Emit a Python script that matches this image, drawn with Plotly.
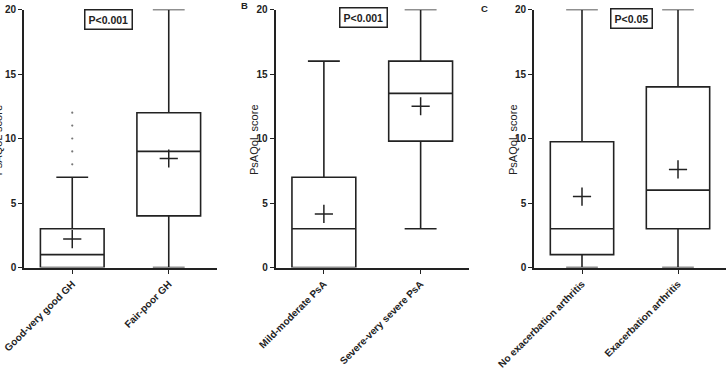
import plotly.graph_objects as go

# ---------------- data ----------------
cats_a = ["Good-very good GH", "Fair-poor GH"]
low_a = [0, 0]
q1_a = [0, 4]
med_a = [1, 9]
q3_a = [3, 12]
up_a = [7, 20]
mean_a = [2.2, 8.45]
out_a_cat = ["Good-very good GH"] * 5
out_a_val = [8, 9, 10, 11, 12]

cats_b = ["Mild-moderate PsA", "Severe-very severe PsA"]
low_b = [0, 3]
q1_b = [0, 9.8]
med_b = [3, 13.5]
q3_b = [7, 16]
up_b = [16, 20]
mean_b = [4.15, 12.5]

cats_c = ["No exacerbation arthritis", "Exacerbation arthritis"]
low_c = [0, 0]
q1_c = [1, 3]
med_c = [3, 6]
q3_c = [9.75, 14]
up_c = [20, 20]
mean_c = [5.5, 7.6]

pvals = ["P<0.001", "P<0.001", "P<0.05"]
panel_labels = ["", "B", "C"]
ytitle = "PsAQoL score"
yticks = [0, 5, 10, 15, 20]

# ---------------- layout geometry ----------------
W, H = 726, 369
def px(x):
    return x / W
def py(y):
    return 1 - y / H

y_dom = [py(267.5), py(9.5)]
x_doms = [[px(24), px(217)], [px(275.5), px(469)], [px(534), 1.0]]

fig = go.Figure()

panels = [
    (cats_a, low_a, q1_a, med_a, q3_a, up_a, mean_a),
    (cats_b, low_b, q1_b, med_b, q3_b, up_b, mean_b),
    (cats_c, low_c, q1_c, med_c, q3_c, up_c, mean_c),
]

font_fam = "Liberation Sans, Arial, sans-serif"
ink = "#222222"

for i, (cats, lo, q1, md, q3, up, mn) in enumerate(panels):
    xa = "x" if i == 0 else f"x{i+1}"
    ya = "y" if i == 0 else f"y{i+1}"
    fig.add_trace(go.Box(
        x=cats, q1=q1, median=md, q3=q3, lowerfence=lo, upperfence=up,
        boxpoints=False, width=0.66, whiskerwidth=0.5,
        fillcolor="rgba(0,0,0,0)", line=dict(color=ink, width=1.6),
        xaxis=xa, yaxis=ya, showlegend=False, hoverinfo="skip",
    ))
    fig.add_trace(go.Scatter(
        x=cats, y=mn, mode="markers",
        marker=dict(symbol="cross-thin", size=13, line=dict(color=ink, width=1.5)),
        xaxis=xa, yaxis=ya, showlegend=False, hoverinfo="skip",
    ))
    if i == 0:
        fig.add_trace(go.Scatter(
            x=out_a_cat, y=out_a_val, mode="markers",
            marker=dict(symbol="circle", size=2.2, color="#777777"),
            xaxis=xa, yaxis=ya, showlegend=False, hoverinfo="skip",
        ))

    axis_common = dict(showline=True, linecolor=ink, linewidth=1.6,
                       ticks="outside", tickcolor=ink, tickwidth=1.4,
                       showgrid=False, zeroline=False, automargin=False)
    fig.layout[("xaxis" if i == 0 else f"xaxis{i+1}")] = dict(
        domain=x_doms[i], anchor=ya, type="category",
        categoryorder="array", categoryarray=cats,
        range=[-0.5, 1.5], ticklen=5, tickangle=-45,
        tickfont=dict(family=font_fam, size=10, color=ink, weight="bold"),
        **axis_common)
    fig.layout[("yaxis" if i == 0 else f"yaxis{i+1}")] = dict(
        domain=y_dom, anchor=xa, range=[0, 20], tickvals=yticks,
        ticklen=4, tickfont=dict(family=font_fam, size=10, color=ink, weight="bold"),
        **axis_common)

# y titles
ytitle_x = [-2.5, 254, 513]
for xx in ytitle_x:
    fig.add_annotation(x=px(xx), y=py(140), xref="paper", yref="paper",
                       text=ytitle, textangle=-90, showarrow=False,
                       xanchor="center", yanchor="middle",
                       font=dict(family=font_fam, size=11, color=ink))

# p-value boxes
p_pos = [(108, 20), (363, 17.5), (631, 19)]
for (xx, yy), t in zip(p_pos, pvals):
    fig.add_annotation(x=px(xx), y=py(yy), xref="paper", yref="paper",
                       text=f"<b>{t}</b>", showarrow=False,
                       xanchor="center", yanchor="middle",
                       bordercolor=ink, borderwidth=1.5, borderpad=3,
                       bgcolor="white",
                       font=dict(family=font_fam, size=10.5, color=ink))

# panel labels
lab_pos = [(0, 0), (244, 6), (484, 8)]
for (xx, yy), t in zip(lab_pos, panel_labels):
    if t:
        fig.add_annotation(x=px(xx), y=py(yy), xref="paper", yref="paper",
                           text=f"<b>{t}</b>", showarrow=False,
                           xanchor="center", yanchor="middle",
                           font=dict(family=font_fam, size=9.5, color=ink))

fig.update_layout(width=W, height=H, margin=dict(l=0, r=0, t=0, b=0),
                  plot_bgcolor="white", paper_bgcolor="white")

fig.write_html("out.html")
